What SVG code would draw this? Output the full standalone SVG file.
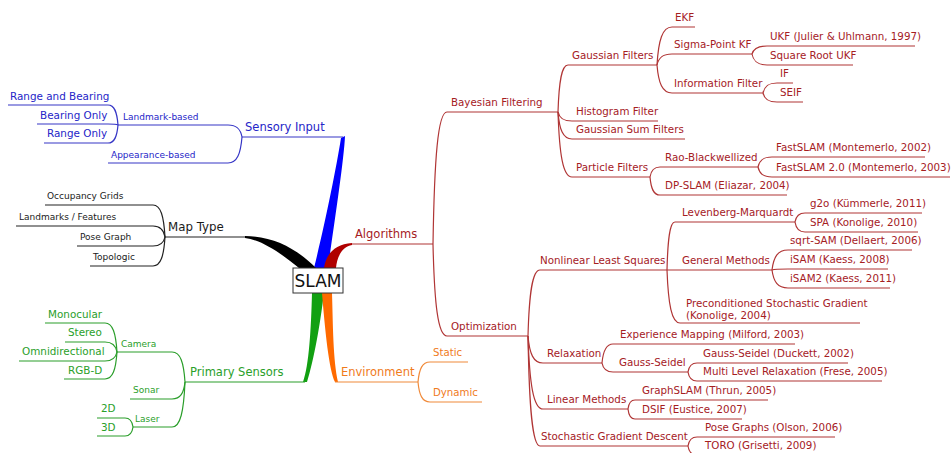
<svg xmlns="http://www.w3.org/2000/svg" width="952" height="453" viewBox="0 0 952 453">
<style>
text{font-family:"DejaVu Sans","Liberation Sans",sans-serif}
.r{fill:#a5201f;font-size:10.3px}
.r1{fill:#a5201f;font-size:11.5px}
.b{fill:#2525c8;font-size:10.4px}
.bs{fill:#2525c8;font-size:9px}
.b1{fill:#2525c8;font-size:11.5px}
.k{fill:#1a1a1a;font-size:9px}
.k1{fill:#1a1a1a;font-size:11.8px}
.g{fill:#2aa02a;font-size:10.4px}
.gs{fill:#2aa02a;font-size:9px}
.g1{fill:#2aa02a;font-size:11.5px}
.o{fill:#f07b1c;font-size:10.2px}
.o1{fill:#f07b1c;font-size:11.5px}
.lr{fill:none;stroke:#b03535;stroke-width:1.2}
.lb{fill:none;stroke:#3636c6;stroke-width:1.2}
.lk{fill:none;stroke:#222;stroke-width:1.2}
.lg{fill:none;stroke:#2a9e2a;stroke-width:1.2}
.lo{fill:none;stroke:#f08a3a;stroke-width:1.2}
</style>
<g id="connectors">
<!-- thick main branches -->
<path fill="#0000ff" d="M314,268 C324,228 336,170 341,138 L345,136 C344,160 334,225 328,268 Z"/>
<path fill="#000" d="M245,236 C275,236 298,250 316,268 L299,268 C283,255 263,240 245,238 Z"/>
<path fill="#b00000" d="M324,268 C326,254 335,244 352,243 L352,245 C343,246 337,256 336,268 Z"/>
<path fill="#12a012" d="M312,293 C311,330 309,365 303,382 L307,382 C314,360 320,325 324,293 Z"/>
<path fill="#ff6a00" d="M322,293 C325,330 329,370 335,382 L338,382 C333,360 333,325 332,293 Z"/>
<!-- red -->
<path class="lr" d="M352,244 H433"/>
<path class="lr" d="M433,244 C434.4,158.2 437.9,112 447,112 H558"/>
<path class="lr" d="M433,244 C434.4,303.8 437.9,336 447,336 H528"/>
<path class="lr" d="M558,112 C559,81.5 561.5,65 568,65 H657"/>
<path class="lr" d="M558,112 C559.4,117.9 562.9,121 572,121 H658"/>
<path class="lr" d="M558,112 C559.4,129.6 562.9,139 572,139 H685"/>
<path class="lr" d="M558,112 C559.4,154.3 562.9,177 572,177 H650"/>
<path class="lr" d="M657,65 C658.5,40.3 662.3,27 672,27 H695"/>
<path class="lr" d="M657,65 C658.5,57.9 662.3,54 672,54 H752"/>
<path class="lr" d="M657,65 C658.5,83.2 662.3,93 672,93 H763"/>
<path class="lr" d="M752,54 C753.5,48.8 757.3,46 767,46 H915"/>
<path class="lr" d="M752,54 C753.5,61.2 757.3,65 767,65 H853"/>
<path class="lr" d="M763,93 C764.4,86.5 767.9,83 777,83 H793"/>
<path class="lr" d="M763,93 C764.4,98.9 767.9,102 777,102 H803"/>
<path class="lr" d="M650,177 C651,170.5 653.5,167 660,167 H758"/>
<path class="lr" d="M650,177 C651,188.7 653.5,195 660,195 H787"/>
<path class="lr" d="M758,167 C759.4,160.5 762.9,157 772,157 H925"/>
<path class="lr" d="M758,167 C759.4,173.5 762.9,177 772,177 H950"/>
<path class="lr" d="M528,336 C529.2,293.1 532.2,270 540,270 H667"/>
<path class="lr" d="M528,336 C529.5,353.6 533.3,363 543,363 H602"/>
<path class="lr" d="M528,336 C529.5,383.5 533.3,409 543,409 H628"/>
<path class="lr" d="M528,336 C529.2,407.5 532.2,446 540,446 H688"/>
<path class="lr" d="M667,270 C667.8,238.8 669.8,222 675,222 H795"/>
<path class="lr" d="M667,270 H772"/>
<path class="lr" d="M667,270 C668.3,304.5 671.6,323 680,323 H860"/>
<path class="lr" d="M795,222 C796,216.2 798.5,213 805,213 H922"/>
<path class="lr" d="M795,222 C796,228.5 798.5,232 805,232 H918"/>
<path class="lr" d="M772,270 C773.6,257 777.6,250 788,250 H912"/>
<path class="lr" d="M772,270 C773.6,269.4 777.6,269 788,269 H888"/>
<path class="lr" d="M772,270 C773.6,281.7 777.6,288 788,288 H890"/>
<path class="lr" d="M602,363 C603.1,350.7 605.9,344 613,344 H795"/>
<path class="lr" d="M602,363 C603.1,368.9 605.9,372 613,372 H688"/>
<path class="lr" d="M688,372 C688.9,366.2 691.2,363 697,363 H848"/>
<path class="lr" d="M688,372 C688.9,377.9 691.2,381 697,381 H882"/>
<path class="lr" d="M628,409 C628.7,403.2 630.5,400 635,400 H768"/>
<path class="lr" d="M628,409 C628.7,415.5 630.5,419 635,419 H742"/>
<path class="lr" d="M688,446 C688.9,440.2 691.2,437 697,437 H835"/>
<path class="lr" d="M688,446 C688.9,451.9 691.2,455 697,455 H820"/>
<!-- orange -->
<path class="lo" d="M335,382 H418"/>
<path class="lo" d="M418,382 C419.2,369 422.2,362 430,362 H468"/>
<path class="lo" d="M418,382 C419.2,395 422.2,402 430,402 H482"/>
<!-- blue -->
<path class="lb" d="M343,137 H242"/>
<path class="lb" d="M242,137 C240.6,129.2 237.1,125 228,125 H118"/>
<path class="lb" d="M242,137 C240.6,153.9 237.1,163 228,163 H108"/>
<path class="lb" d="M118,125 C117,112 114.5,105 108,105 H8"/>
<path class="lb" d="M118,125 C117,124.4 114.5,124 108,124 H37"/>
<path class="lb" d="M118,125 C117,136.7 114.5,143 108,143 H44"/>
<!-- black -->
<path class="lk" d="M245,237 H165"/>
<path class="lk" d="M165,237 C163.8,216.2 160.8,205 153,205 H45"/>
<path class="lk" d="M165,237 C163.8,229.9 160.8,226 153,226 H16"/>
<path class="lk" d="M165,237 C163.8,242.9 160.8,246 153,246 H77"/>
<path class="lk" d="M165,237 C163.8,255.9 160.8,266 153,266 H90"/>
<!-- green -->
<path class="lg" d="M305,382 H185"/>
<path class="lg" d="M185,382 C183.7,362.5 180.5,352 172,352 H117"/>
<path class="lg" d="M185,382 C183.7,393.1 180.5,399 172,399 H130"/>
<path class="lg" d="M185,382 C183.7,411.3 180.5,427 172,427 H133"/>
<path class="lg" d="M117,352 C115.8,333.2 112.8,323 105,323 H45"/>
<path class="lg" d="M117,352 C115.8,345.5 112.8,342 105,342 H65"/>
<path class="lg" d="M117,352 C115.8,357.9 112.8,361 105,361 H19"/>
<path class="lg" d="M117,352 C115.8,369.6 112.8,379 105,379 H64"/>
<path class="lg" d="M133,427 C132.2,421.2 130.2,418 125,418 H97"/>
<path class="lg" d="M133,427 C132.2,432.9 130.2,436 125,436 H97"/>
</g>
<g id="slam">
<rect x="293" y="268" width="50" height="25" fill="#fff" stroke="#333" stroke-width="1"/>
<text x="318" y="287" text-anchor="middle" style="font-size:17px;fill:#111">SLAM</text>
</g>
<g id="algorithms"><text class="r1" x="355" y="238">Algorithms</text></g>
<g id="bayesian"><text class="r" x="451" y="106">Bayesian Filtering</text></g>
<g id="gaussian-filters"><text class="r" x="572" y="59">Gaussian Filters</text></g>
<g id="ekf"><text class="r" x="675" y="21">EKF</text></g>
<g id="sigma-point"><text class="r" x="674" y="48">Sigma-Point KF</text></g>
<g id="ukf"><text class="r" x="770" y="40">UKF (Julier &amp; Uhlmann, 1997)</text></g>
<g id="sqrt-ukf"><text class="r" x="770" y="59">Square Root UKF</text></g>
<g id="info-filter"><text class="r" x="674" y="87">Information Filter</text></g>
<g id="if"><text class="r" x="780" y="77">IF</text></g>
<g id="seif"><text class="r" x="780" y="96">SEIF</text></g>
<g id="histogram"><text class="r" x="576" y="115">Histogram Filter</text></g>
<g id="gaussian-sum"><text class="r" x="576" y="133">Gaussian Sum Filters</text></g>
<g id="particle"><text class="r" x="576" y="171">Particle Filters</text></g>
<g id="rao"><text class="r" x="665" y="161">Rao-Blackwellized</text></g>
<g id="fastslam"><text class="r" x="776" y="151">FastSLAM (Montemerlo, 2002)</text></g>
<g id="fastslam2"><text class="r" x="776" y="171">FastSLAM 2.0 (Montemerlo, 2003)</text></g>
<g id="dpslam"><text class="r" x="665" y="189">DP-SLAM (Eliazar, 2004)</text></g>
<g id="optimization"><text class="r" x="451" y="330">Optimization</text></g>
<g id="nlls"><text class="r" x="540" y="264">Nonlinear Least Squares</text></g>
<g id="lm"><text class="r" x="682" y="216">Levenberg-Marquardt</text></g>
<g id="g2o"><text class="r" x="810" y="207">g2o (Kümmerle, 2011)</text></g>
<g id="spa"><text class="r" x="810" y="226">SPA (Konolige, 2010)</text></g>
<g id="general"><text class="r" x="682" y="264">General Methods</text></g>
<g id="sqrtsam"><text class="r" x="790" y="244">sqrt-SAM (Dellaert, 2006)</text></g>
<g id="isam"><text class="r" x="790" y="263">iSAM (Kaess, 2008)</text></g>
<g id="isam2"><text class="r" x="790" y="282">iSAM2 (Kaess, 2011)</text></g>
<g id="psg"><text class="r" x="686" y="307">Preconditioned Stochastic Gradient</text><text class="r" x="686" y="318.5">(Konolige, 2004)</text></g>
<g id="relaxation"><text class="r" x="547" y="357">Relaxation</text></g>
<g id="experience"><text class="r" x="620" y="338">Experience Mapping (Milford, 2003)</text></g>
<g id="gauss-seidel"><text class="r" x="619" y="366">Gauss-Seidel</text></g>
<g id="gs-duckett"><text class="r" x="703" y="357">Gauss-Seidel (Duckett, 2002)</text></g>
<g id="mlr"><text class="r" x="703" y="375">Multi Level Relaxation (Frese, 2005)</text></g>
<g id="linear"><text class="r" x="547" y="403">Linear Methods</text></g>
<g id="graphslam"><text class="r" x="642" y="394">GraphSLAM (Thrun, 2005)</text></g>
<g id="dsif"><text class="r" x="642" y="413">DSIF (Eustice, 2007)</text></g>
<g id="sgd"><text class="r" x="541" y="440">Stochastic Gradient Descent</text></g>
<g id="posegraphs"><text class="r" x="705" y="431">Pose Graphs (Olson, 2006)</text></g>
<g id="toro"><text class="r" x="705" y="449">TORO (Grisetti, 2009)</text></g>
<g id="environment"><text class="o1" x="341" y="376">Environment</text></g>
<g id="static"><text class="o" x="433" y="356">Static</text></g>
<g id="dynamic"><text class="o" x="433" y="396">Dynamic</text></g>
<g id="sensory"><text class="b1" x="245" y="131">Sensory Input</text></g>
<g id="landmark-based"><text class="bs" x="123" y="119.5">Landmark-based</text></g>
<g id="appearance-based"><text class="bs" x="111" y="157.5">Appearance-based</text></g>
<g id="range-bearing"><text class="b" x="10" y="100">Range and Bearing</text></g>
<g id="bearing-only"><text class="b" x="40" y="118.5">Bearing Only</text></g>
<g id="range-only"><text class="b" x="47" y="137">Range Only</text></g>
<g id="maptype"><text class="k1" x="168" y="231">Map Type</text></g>
<g id="occupancy"><text class="k" x="47" y="199">Occupancy Grids</text></g>
<g id="landmarks"><text class="k" x="19" y="220">Landmarks / Features</text></g>
<g id="posegraph"><text class="k" x="80" y="240">Pose Graph</text></g>
<g id="topologic"><text class="k" x="93" y="260">Topologic</text></g>
<g id="primary"><text class="g1" x="190" y="375.5">Primary Sensors</text></g>
<g id="camera"><text class="gs" x="121" y="346.5">Camera</text></g>
<g id="sonar"><text class="gs" x="133" y="393">Sonar</text></g>
<g id="laser"><text class="gs" x="135" y="421.5">Laser</text></g>
<g id="monocular"><text class="g" x="48" y="317.5">Monocular</text></g>
<g id="stereo"><text class="g" x="68" y="336">Stereo</text></g>
<g id="omni"><text class="g" x="22" y="354.5">Omnidirectional</text></g>
<g id="rgbd"><text class="g" x="68" y="373.5">RGB-D</text></g>
<g id="l2d"><text class="g" x="101" y="411.5">2D</text></g>
<g id="l3d"><text class="g" x="101" y="430.5">3D</text></g>
</svg>
